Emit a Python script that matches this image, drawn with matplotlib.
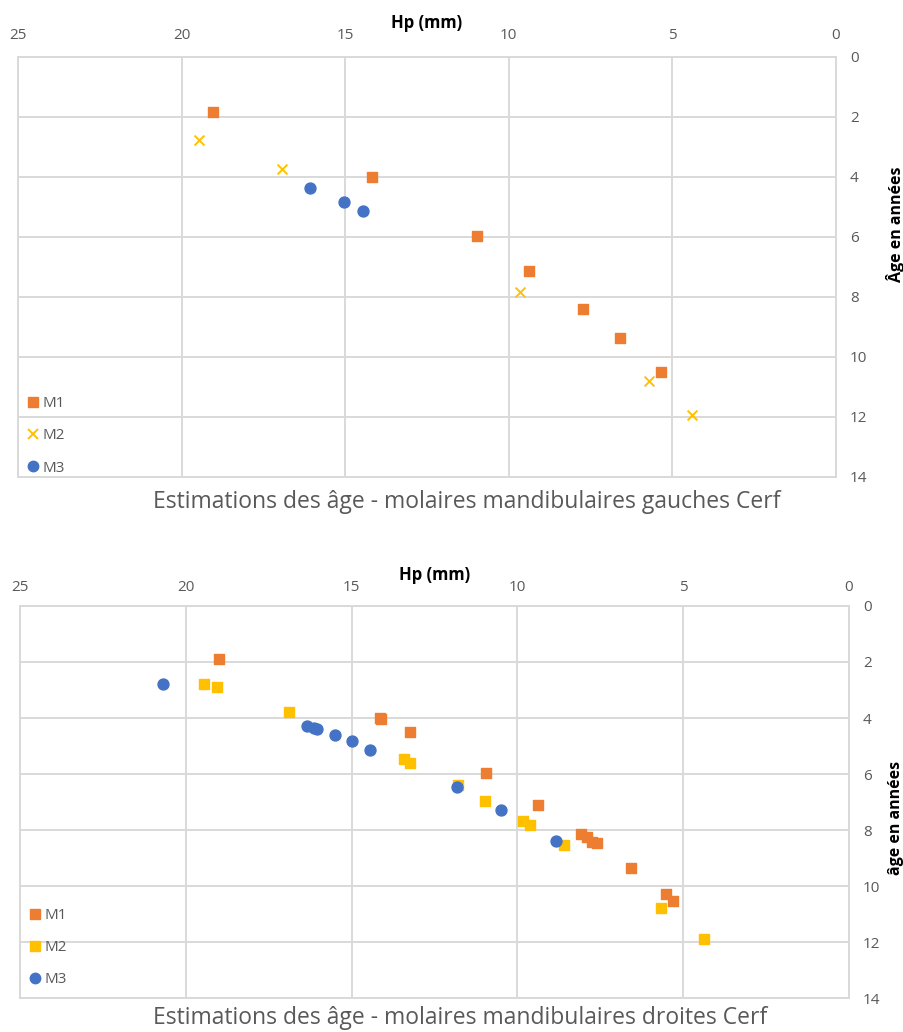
import matplotlib
matplotlib.use('Agg')
import matplotlib.pyplot as plt
from matplotlib.lines import Line2D

plt.rcParams['font.family'] = ['Open Sans', 'DejaVu Sans']

ORANGE = '#ED7D31'
YELLOW = '#FFC000'
BLUE = '#4472C4'
GRID = '#D9D9D9'
TEXT = '#595959'

# ---- left (gauches) molars: Hp (mm) vs age (years)
left_m1_hp = [19.03, 14.18, 10.98, 9.39, 7.74, 6.59, 5.34]
left_m1_age = [1.84, 4.00, 5.98, 7.13, 8.41, 9.38, 10.51]
left_m2_hp = [19.47, 16.92, 9.65, 5.72, 4.39]
left_m2_age = [2.77, 3.75, 7.84, 10.81, 11.93]
left_m3_hp = [16.07, 15.03, 14.45]
left_m3_age = [4.37, 4.82, 5.12]

# ---- right (droites) molars
right_m1_hp = [19.01, 14.15, 14.10, 13.24, 10.96, 9.37, 8.08, 7.91, 7.74, 7.61,
               6.58, 5.52, 5.30]
right_m1_age = [1.88, 4.00, 4.05, 4.51, 5.97, 7.10, 8.13, 8.25, 8.41, 8.48,
                9.35, 10.30, 10.52]
right_m2_hp = [19.46, 19.07, 16.88, 13.41, 13.24, 11.80, 10.98, 9.84, 9.62,
               8.59, 5.68, 4.37]
right_m2_age = [2.78, 2.91, 3.78, 5.47, 5.59, 6.41, 6.95, 7.67, 7.83,
                8.54, 10.79, 11.90]
right_m3_hp = [20.69, 16.33, 16.14, 16.03, 15.51, 15.00, 14.43, 11.82, 10.48, 8.84]
right_m3_age = [2.80, 4.28, 4.35, 4.39, 4.60, 4.83, 5.13, 6.47, 7.30, 8.38]

X_TICKS = [25, 20, 15, 10, 5, 0]
Y_TICKS = [0, 2, 4, 6, 8, 10, 12, 14]


def style_axes(ax, xpad, ypad):
    ax.set_xlim(25, 0)
    ax.set_ylim(14, 0)
    ax.xaxis.tick_top()
    ax.xaxis.set_label_position('top')
    ax.yaxis.tick_right()
    ax.set_xticks(X_TICKS)
    ax.set_yticks(Y_TICKS)
    ax.tick_params(axis='x', length=0, pad=xpad, labelsize=11, labelcolor=TEXT)
    ax.tick_params(axis='y', length=0, pad=ypad, labelsize=11, labelcolor=TEXT)
    ax.grid(True, color=GRID, linewidth=1.4)
    ax.set_axisbelow(True)
    for s in ax.spines.values():
        s.set_color(GRID)
        s.set_linewidth(1.4)
    ax.set_xlabel('Hp (mm)', fontsize=12, fontweight='bold', labelpad=0)


def legend(ax, m2_marker, y_anchor, spacing):
    handles = [
        Line2D([], [], ls='none', marker='s', ms=7, color=ORANGE, label='M1'),
        Line2D([], [], ls='none', marker=m2_marker, ms=7,
               color=YELLOW, mew=1.4 if m2_marker == 'x' else 1, label='M2'),
        Line2D([], [], ls='none', marker='o', ms=7.5, color=BLUE, label='M3'),
    ]
    ax.legend(handles=handles, loc='lower left', frameon=False, fontsize=11,
              labelspacing=spacing, handlelength=0.6, handletextpad=0.3,
              borderaxespad=0.3, labelcolor=TEXT,
              bbox_to_anchor=(0.0, y_anchor))


fig = plt.figure(figsize=(9.04, 10.32), dpi=100)

ax1 = fig.add_axes([0.0199, 0.5378, 0.9049, 0.4070])
ax1.scatter(left_m1_hp, left_m1_age, marker='s', s=58, color=ORANGE, zorder=3)
ax1.scatter(left_m2_hp, left_m2_age, marker='x', s=50, color=YELLOW,
            linewidths=1.4, zorder=3)
ax1.scatter(left_m3_hp, left_m3_age, marker='o', s=62, color=BLUE, zorder=3)
style_axes(ax1, xpad=10, ypad=10)
legend(ax1, 'x', -0.022, 1.12)
fig.text(896 / 904, 1 - 224 / 1032, 'Âge en années', rotation=90, ha='center',
         va='center', fontsize=11.5, fontweight='bold')
fig.text(0.516, 1 - 502 / 1032,
         'Estimations des âge - molaires mandibulaires gauches Cerf',
         ha='center', va='center', fontsize=16.5, color=TEXT)

ax2 = fig.add_axes([0.0221, 0.0329, 0.9170, 0.3799])
ax2.scatter(right_m1_hp, right_m1_age, marker='s', s=58, color=ORANGE, zorder=3)
ax2.scatter(right_m2_hp, right_m2_age, marker='s', s=58, color=YELLOW, zorder=3)
ax2.scatter(right_m3_hp, right_m3_age, marker='o', s=62, color=BLUE, zorder=4)
style_axes(ax2, xpad=8, ypad=10)
legend(ax2, 's', 0.0, 1.12)
fig.text(896 / 904, 1 - 818 / 1032, 'âge en années', rotation=90, ha='center',
         va='center', fontsize=11.5, fontweight='bold')
fig.text(0.509, 1 - 1018 / 1032,
         'Estimations des âge - molaires mandibulaires droites Cerf',
         ha='center', va='center', fontsize=16.5, color=TEXT)

fig.savefig('out.png', dpi=100, facecolor='white')
